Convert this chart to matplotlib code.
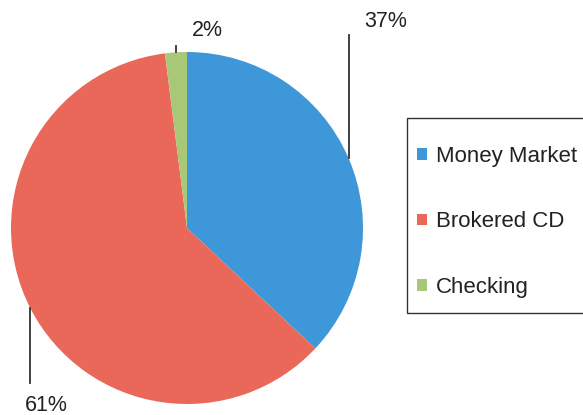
import numpy as np
import matplotlib.pyplot as plt
from matplotlib.patches import Rectangle

# account mix
labels = ["Money Market", "Brokered CD", "Checking"]
shares = [37, 61, 2]
colors = ["#3d97d9", "#e9685a", "#a8c878"]

W, H = 583, 415
fig = plt.figure(figsize=(W / 100, H / 100), dpi=100)
ax = fig.add_axes([0, 0, 1, 1])

cx, cy, r = 187, H - 228, 176
wedges, _ = ax.pie(shares, colors=colors, startangle=90, counterclock=False,
                   center=(cx, cy), radius=r, frame=True,
                   wedgeprops=dict(linewidth=0))
ax.set_xlim(0, W)
ax.set_ylim(0, H)
ax.set_aspect("equal")
ax.axis("off")

font = dict(family="Liberation Sans", fontsize=15.5, color="#222222")

# leader lines go straight up/down from the middle of each wedge's arc
label_y = {0: H - 35, 1: H - 383, 2: H - 46}
text_pos = {0: (386, H - 22), 1: (46, H - 405), 2: (207, H - 31)}
for i, w in enumerate(wedges):
    mid = np.deg2rad((w.theta1 + w.theta2) / 2)
    ex, ey = cx + r * np.cos(mid), cy + r * np.sin(mid)
    ax.plot([ex, ex], [ey, label_y[i]], color="#333333", lw=1.3)
    tx, ty = text_pos[i]
    ax.text(tx, ty, f"{shares[i]}%", ha="center", va="center", **font)

# legend box, runs off the right edge
ax.add_patch(Rectangle((407, H - 313), 200, 195, facecolor="white",
                       edgecolor="#333333", lw=1.0, clip_on=False))

leg = ax.legend(wedges, labels, loc="upper left",
                bbox_to_anchor=(417 / W, 1 - 146 / H), bbox_transform=fig.transFigure,
                borderaxespad=0, frameon=False,
                handlelength=0.45, handleheight=0.45, handletextpad=0.4,
                labelspacing=2.0, borderpad=0,
                prop=dict(family="Liberation Sans", size=16))
for t in leg.get_texts():
    t.set_color("#222222")

fig.savefig("out.png", dpi=100)
